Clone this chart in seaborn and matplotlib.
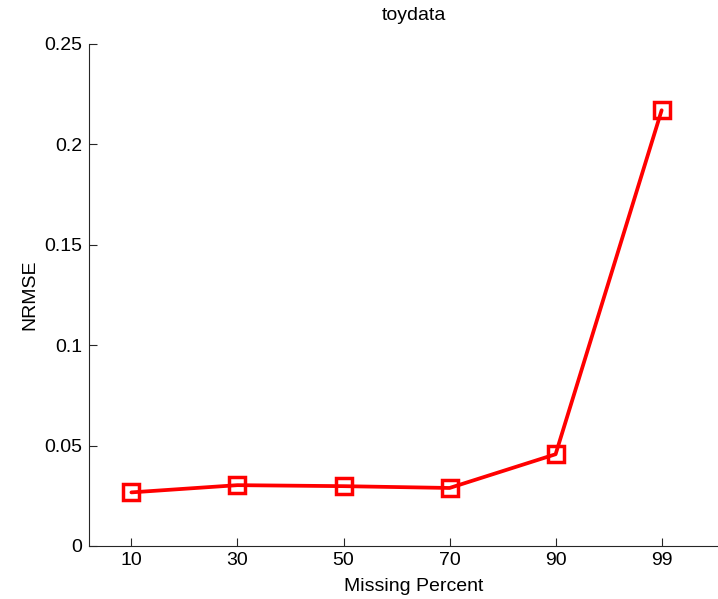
import matplotlib
matplotlib.use("Agg")
import matplotlib.pyplot as plt
import seaborn as sns
import pandas as pd

missing_percent = ["10", "30", "50", "70", "90", "99"]
nrmse = [0.0267, 0.0303, 0.0298, 0.0289, 0.0457, 0.2170]

sns.set_style("white")
plt.rcParams["font.family"] = ["Liberation Sans", "DejaVu Sans"]
plt.rcParams["text.color"] = "black"
plt.rcParams["axes.labelcolor"] = "black"

df = pd.DataFrame({"Missing Percent": missing_percent, "NRMSE": nrmse})

fig = plt.figure(figsize=(7.18, 5.99), dpi=100)
# the axes run a little past the right edge of the figure
ax = fig.add_axes([89 / 718, 53 / 599, 649 / 718, 502 / 599])

sns.lineplot(data=df, x="Missing Percent", y="NRMSE", ax=ax, sort=False,
             color="#ff0000", linewidth=2.7, marker="s", markersize=11,
             markerfacecolor="none", markeredgecolor="#ff0000",
             markeredgewidth=2.5)

ax.set_xlim(-0.40, 5.72)
ax.set_ylim(0, 0.25)
ax.set_yticks([0, 0.05, 0.1, 0.15, 0.2, 0.25])
ax.set_yticklabels(["0", "0.05", "0.1", "0.15", "0.2", "0.25"])

for s in ["top", "right"]:
    ax.spines[s].set_visible(False)
for s in ["left", "bottom"]:
    ax.spines[s].set_color("#262626")
    ax.spines[s].set_linewidth(0.8)

ax.tick_params(direction="in", length=6, width=0.8, colors="#262626",
               labelcolor="black", labelsize=14, left=True, bottom=True)
ax.tick_params(axis="x", pad=4)
ax.tick_params(axis="y", pad=5)

ax.set_xlabel("Missing Percent", fontsize=14, labelpad=7)
ax.set_ylabel("NRMSE", fontsize=14, labelpad=4)
ax.set_title("toydata", fontsize=14, pad=17)

fig.savefig("out.png", dpi=100)
